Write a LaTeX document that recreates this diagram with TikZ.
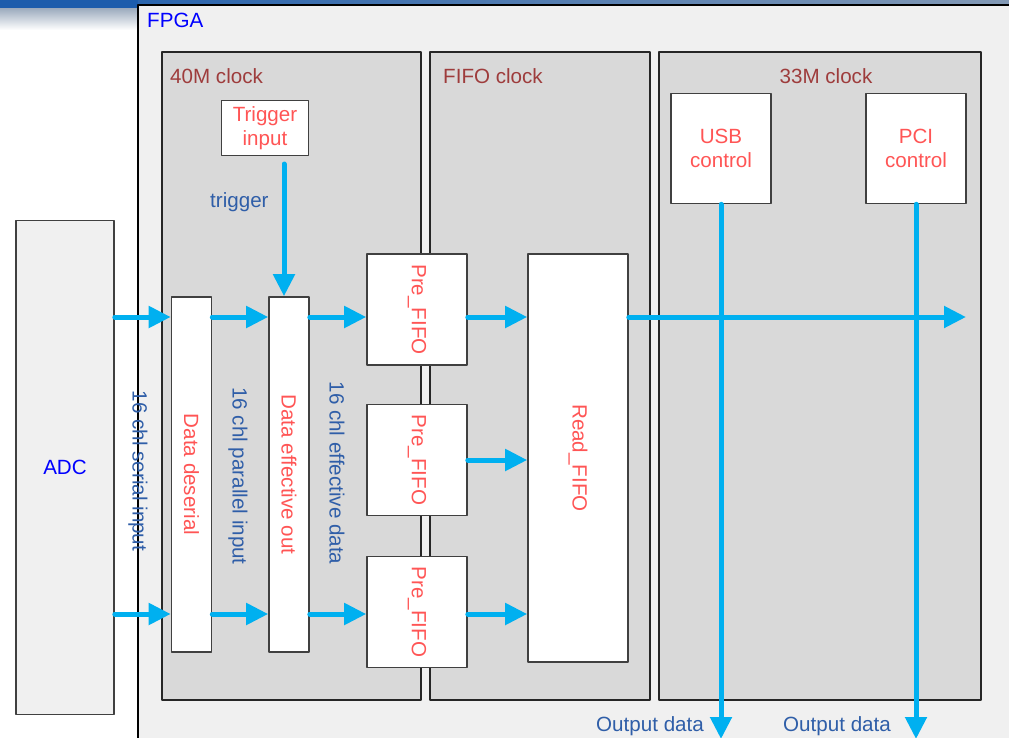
\documentclass[tikz,border=0pt]{standalone}
\usepackage{fontspec}
\setmainfont{Liberation Sans}
\usetikzlibrary{arrows.meta}
\definecolor{flowblue}{RGB}{0,176,240}
\definecolor{regiongray}{RGB}{217,217,217}
\definecolor{fpgagray}{RGB}{240,240,240}
\definecolor{txtred}{RGB}{255,85,85}
\definecolor{clkred}{RGB}{158,60,60}
\definecolor{lblblue}{RGB}{47,94,168}
\definecolor{barblue}{RGB}{28,92,172}
\begin{document}
\begin{tikzpicture}[x=1pt, y=-1pt, font=\fontsize{20.6}{24}\selectfont, line join=round,
	region/.style={draw=black!85, line width=1.3pt, fill=regiongray},
	blk/.style={draw=black!75, line width=1.6pt, fill=white, inner sep=0pt, align=center, text=txtred},
	flow/.style={draw=flowblue, line width=5pt, line cap=round, -{Triangle[length=22pt,width=21pt]}},
	lbl/.style={text=lblblue, inner sep=0pt},
	clk/.style={text=clkred, inner sep=0pt}]
	\useasboundingbox (0,0) rectangle (1009,737);
	% top bar
	\fill[white] (0,0) rectangle (1009,737);
	\shade[top color=barblue!40!gray!60, bottom color=white] (0,8) rectangle (138,30);
	\shade[left color=barblue, right color=barblue!50!gray!70] (0,0) rectangle (1009,5);
	\fill[barblue] (0,0) rectangle (138,8);
	% FPGA and clock areas
	\draw[line width=1.3pt, fill=fpgagray] (138,5) rectangle (1020,750);
	\node[anchor=base west, inner sep=0pt, text=blue] (fpga) at (147,27) {FPGA};
	\draw[region] (162,52) rectangle (421,700);
	\draw[region] (430,52) rectangle (650,700);
	\draw[region] (659,52) rectangle (981,700);
	\node[clk, anchor=base west] (c40) at (170,83) {40M clock};
	\node[clk, anchor=base west] (cfifo) at (443,83) {FIFO clock};
	\node[clk, anchor=base] (c33) at (826,83) {33M clock};
	% blocks
	\node[draw=black!75, line width=1.6pt, fill=fpgagray, minimum width=98pt, minimum height=494pt, inner sep=0pt, text=blue] (adc) at (65,467.5) {ADC};
	\node[blk, minimum width=87pt, minimum height=55pt] (trig) at (265,128) {Trigger\\input};
	\node[blk, minimum width=40pt, minimum height=355pt] (deser) at (191.5,474.5) {\rotatebox{-90}{Data deserial}};
	\node[blk, minimum width=40pt, minimum height=355pt] (deff) at (289,474.5) {\rotatebox{-90}{Data effective out}};
	\foreach \n/\y in {1/309.5, 2/460, 3/612}
		\node[blk, minimum width=100pt, minimum height=111pt] (pre\n) at (417,\y) {\rotatebox{-90}{Pre\_FIFO}};
	\node[blk, minimum width=100pt, minimum height=408pt] (rfifo) at (578,458) {\rotatebox{-90}{Read\_FIFO}};
	\node[blk, minimum width=100pt, minimum height=110pt] (usb) at (721,148.5) {USB\\control};
	\node[blk, minimum width=100pt, minimum height=110pt] (pci) at (916,148.5) {PCI\\control};
	% labels
	\node[lbl, anchor=base west] (ltrig) at (210,207) {trigger};
	\node[lbl] (lserial) at (138,471) {\rotatebox{-90}{16 chl serial input}};
	\node[lbl] (lpar) at (238,476) {\rotatebox{-90}{16 chl parallel input}};
	\node[lbl] (leff) at (337,473) {\rotatebox{-90}{16 chl effective data}};
	\node[lbl, anchor=base west] (out1) at (596,731) {Output data};
	\node[lbl, anchor=base west] (out2) at (783,731) {Output data};
	% data flow
	\coordinate (t0) at (284,164);
	\draw[flow] (t0) -- (t0 |- deff.north);
	\foreach \r in {317,614}{
		\coordinate (row) at (0,\r);
		\draw[flow] (adc.east |- row) -- (deser.west |- row);
		\draw[flow] (deser.east |- row) -- (deff.west |- row);
		\draw[flow] (deff.east |- row) -- (pre1.west |- row);
	}
	\draw[flow] (pre1.east |- 0,317) -- (rfifo.west |- 0,317);
	\draw[flow] (pre2.east) -- (rfifo.west |- pre2.east);
	\draw[flow] (pre3.east |- 0,614) -- (rfifo.west |- 0,614);
	\coordinate (rend) at (966,317);
	\draw[flow] (rfifo.east |- rend) -- (rend);
	\draw[flow] (usb.south) -- (usb.south |- 0,739);
	\draw[flow] (pci.south) -- (pci.south |- 0,739);
\end{tikzpicture}
\end{document}
